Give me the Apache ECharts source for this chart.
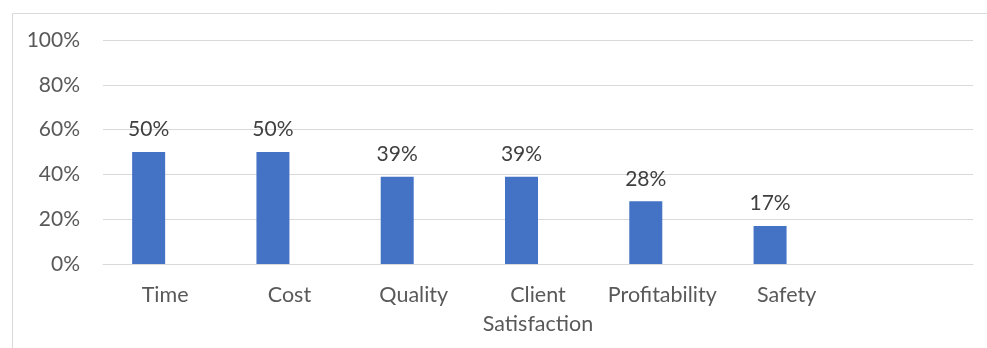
<!DOCTYPE html>
<html><head><meta charset="utf-8">
<script src="https://cdn.jsdelivr.net/npm/echarts@6/dist/echarts.min.js"></script>
<style>html,body{margin:0;padding:0;background:#fff}#c{width:987px;height:348px}</style>
</head><body><div id="c"></div>
<script>
const categories = ['Time', 'Cost', 'Quality', 'Client\nSatisfaction', 'Profitability', 'Safety', ''];
const values = [50, 50, 39, 39, 28, 17, null];
const emptySeries = [null, null, null, null, null, null, null];
const yTicks = [0, 20, 40, 60, 80, 100];

const FONT = 'Lato';
const chart = echarts.init(document.getElementById('c'));
chart.setOption({
  animation: false,
  graphic: [{
    type: 'rect', left: 10, top: 11, shape: { width: 1000, height: 400 },
    style: { fill: 'none', stroke: '#D9D9D9', lineWidth: 1 }, silent: true
  }],
  grid: { left: 103, right: 14, top: 40, bottom: 84 },
  xAxis: {
    type: 'category', data: categories,
    axisLine: { show: true, lineStyle: { color: '#D9D9D9', width: 1 } },
    axisTick: { show: false },
    axisLabel: { color: '#595959', fontFamily: FONT, fontSize: 21.5, margin: 17, lineHeight: 29, interval: 0 }
  },
  yAxis: {
    type: 'value', min: yTicks[0], max: yTicks[yTicks.length - 1], interval: 20,
    axisLine: { show: false }, axisTick: { show: false },
    splitLine: { lineStyle: { color: '#D9D9D9', width: 1 } },
    axisLabel: { color: '#595959', fontFamily: FONT, fontSize: 21, margin: 23, formatter: v => v + '%' }
  },
  series: [
    {
      type: 'bar', data: values, barWidth: 33, barGap: '0%', barCategoryGap: '47%',
      itemStyle: { color: '#4472C4' },
      label: { show: true, position: 'top', distance: 12, color: '#404040', fontFamily: FONT, fontSize: 21,
        formatter: p => p.value == null ? '' : p.value + '%' }
    },
    { type: 'bar', data: emptySeries, barWidth: 33, itemStyle: { color: '#ED7D31' } }
  ]
});
</script></body></html>
